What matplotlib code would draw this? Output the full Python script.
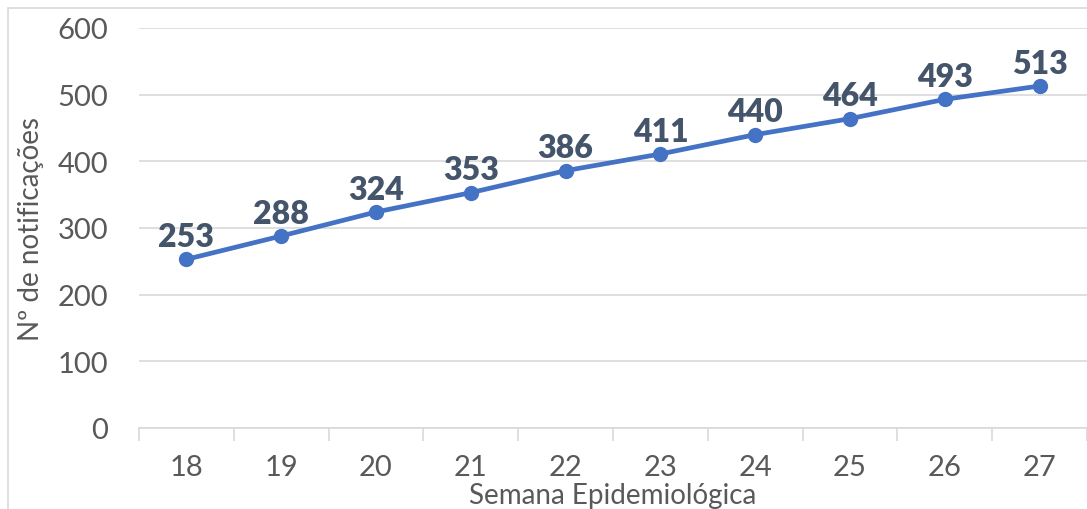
import numpy as np
import matplotlib.pyplot as plt
from matplotlib.patches import Rectangle

# Data
semanas = ['18', '19', '20', '21', '22', '23', '24', '25', '26', '27']
notificacoes = [253, 288, 324, 353, 386, 411, 440, 464, 493, 513]

plt.rcParams['font.family'] = ['Lato', 'DejaVu Sans']

fig = plt.figure(figsize=(10.87, 5.10), dpi=100)
W, H = 1087, 510
ax = fig.add_axes([139 / W, 1 - 429 / H, (1087 - 139) / W, 400 / H])

x = np.arange(len(semanas))
ax.plot(x, notificacoes, color='#4472C4', linewidth=3.4, marker='o',
        markersize=10, zorder=3, clip_on=False)

for xi, v in zip(x, notificacoes):
    ax.annotate(str(v), (xi, v), xytext=(0, 6), textcoords='offset points',
                ha='center', va='bottom', fontsize=23, fontweight='heavy',
                color='#44546A', annotation_clip=False, zorder=4)

ax.set_xlim(-0.5, len(semanas) - 0.5)
ax.set_ylim(0, 600)
ax.set_yticks(range(0, 601, 100))
ax.yaxis.grid(True, color='#d9d9d9', linewidth=1.2)
ax.set_axisbelow(True)

ax.set_xticks(x)
ax.set_xticklabels(semanas)
ax.set_xticks(np.arange(-0.5, len(semanas), 1), minor=True)
ax.tick_params(axis='x', which='major', length=0, pad=19, labelsize=21, labelcolor='#595959')
ax.tick_params(axis='x', which='minor', length=9, width=1.2, color='#d9d9d9')
ax.tick_params(axis='y', length=0, pad=22, labelsize=21, labelcolor='#595959')

for s in ['top', 'right', 'left']:
    ax.spines[s].set_visible(False)
ax.spines['bottom'].set_color('#d9d9d9')
ax.spines['bottom'].set_linewidth(1.2)

ax.set_ylabel('Nº de notificações', fontsize=20, color='#595959', labelpad=10)
ax.set_xlabel('Semana Epidemiológica', fontsize=20, color='#595959', labelpad=1)

# chart area border
fig.patches.append(Rectangle((8 / W, -0.1), 1.2, 1 - 9 / H + 0.1, transform=fig.transFigure,
                             fill=False, edgecolor='#d9d9d9', linewidth=1.2))

fig.savefig('out.png', dpi=100)
